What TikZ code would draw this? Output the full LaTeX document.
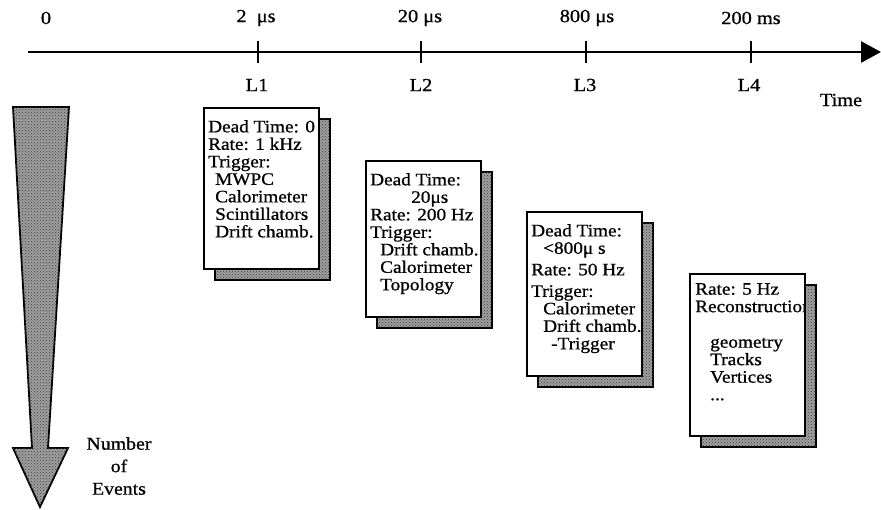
\documentclass[tikz,border=0pt]{standalone}
\usepackage{fontspec}
\setmainfont{Liberation Serif}[FakeStretch=1.1,FakeBold=0.8]
\usetikzlibrary{shadows,arrows.meta,patterns}
\definecolor{texture}{gray}{0.62}
\tikzset{
  boxtext/.style={anchor=north west, inner sep=0pt, align=left, font=\fontsize{17.5}{17.5}\selectfont},
  dotfill/.style={fill=texture, postaction={pattern=crosshatch dots, pattern color=black!75}},
  card/.style={draw=black, line width=1.8pt, fill=white, anchor=north west, inner sep=0pt,
     minimum width=115pt,
     general shadow={shadow xshift=11pt, shadow yshift=-11pt, draw=black, line width=1.4pt, dotfill}},
  lbl/.style={font=\fontsize{18.5}{18.5}\selectfont, inner sep=0pt},
  tickline/.style={line width=2.2pt},
}
\begin{document}
\begin{tikzpicture}[x=1pt,y=-1pt]
\useasboundingbox[fill=white] (0,0) rectangle (881,510);

% time axis
\coordinate (t0) at (28,52);
\coordinate (t1) at (881,52);
\draw[line width=2.8pt, -{Triangle[length=20pt,width=21pt]}] (t0) -- (t1);
\coordinate (k1) at (258,52);
\coordinate (k2) at (421,52);
\coordinate (k3) at (586,52);
\coordinate (k4) at (751,52);
\foreach \k in {k1,k2,k3,k4} \draw[tickline] (\k) ++(0,-11) -- ++(0,22);

\node[lbl] (z0) at (46,18) {0};
\node[lbl] (z1) at (256,18) {2\ \ μs};
\node[lbl] (z2) at (420,18) {20 μs};
\node[lbl] (z3) at (587,18) {800 μs};
\node[lbl] (z4) at (751,18) {200 ms};
\node[lbl] (l1) at (257,85) {L1};
\node[lbl] (l2) at (421,85) {L2};
\node[lbl] (l3) at (585,85) {L3};
\node[lbl] (l4) at (749,85) {L4};
\node[lbl] (time) at (841,100) {Time};

% cards
\node[card, minimum height=161pt] (b1) at (203,107) {};
\node[boxtext] (b1t) at (208,120) {Dead Time: 0\\Rate: 1 kHz\\Trigger:\\\hspace{7pt}MWPC\\\hspace{7pt}Calorimeter\\\hspace{7pt}Scintillators\\\hspace{7pt}Drift chamb.};

\node[card, minimum height=156pt] (b2) at (365,160) {};
\node[boxtext] (b2t) at (370,173) {Dead Time:\\\hspace{41pt}20μs\\Rate: 200 Hz\\Trigger:\\\hspace{10pt}Drift chamb.\\\hspace{10pt}Calorimeter\\\hspace{10pt}Topology};

\node[card, minimum height=164pt] (b3) at (526,211) {};
\node[boxtext] (b3t) at (531,224) {Dead Time:\\\hspace{12pt}<800μ s\\[4pt]Rate: 50 Hz\\[4pt]Trigger:\\\hspace{12pt}Calorimeter\\\hspace{12pt}Drift chamb.\\\hspace{20pt}-Trigger};

\node[card, minimum height=162pt] (b4) at (689,273) {};
\begin{scope}
\clip (b4.north west) rectangle (b4.south east);
\node[boxtext] (b4t) at (695,283) {Rate: 5 Hz\\Reconstruction\\[18pt]\hspace{15pt}geometry\\\hspace{15pt}Tracks\\\hspace{15pt}Vertices\\\hspace{15pt}...};
\end{scope}

% events arrow
\draw[line width=1.8pt, dotfill, line join=miter]
  (13,107) -- (69,107) -- (48,448) -- (68,448) -- (40,507) -- (13,448) -- (32,448) -- cycle;
\node[lbl, align=center, font=\fontsize{18}{22.5}\selectfont] (nev) at (119,466) {Number\\of\\Events};
\end{tikzpicture}
\end{document}
